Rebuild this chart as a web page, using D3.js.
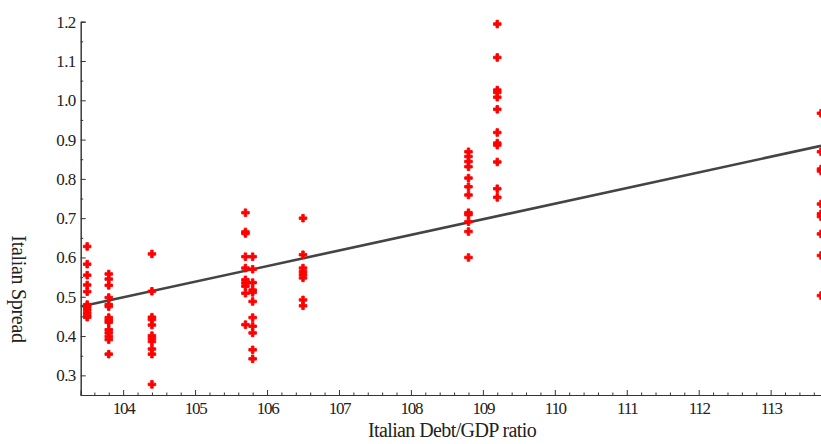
<!DOCTYPE html>
<html>
<head>
<meta charset="utf-8">
<script src="https://cdn.jsdelivr.net/npm/d3@7"></script>
<style>
  html, body { margin: 0; padding: 0; background: #fff; }
  svg { display: block; }
  text { font-family: "Liberation Serif", "DejaVu Serif", serif; fill: #222; }
</style>
</head>
<body>
<svg id="chart" width="821" height="444"></svg>
<script>
// ---- data ----
const debtRatio = [103.5, 103.8, 104.4, 105.7, 105.8, 106.5, 108.8, 109.2, 113.7];
const spread1035 = [0.628, 0.583, 0.555, 0.530, 0.513, 0.480, 0.474, 0.467, 0.459, 0.452, 0.448];
const spread1038 = [0.558, 0.545, 0.529, 0.498, 0.480, 0.475, 0.447, 0.440, 0.435, 0.416, 0.408, 0.399, 0.391, 0.354];
const spread1044 = [0.609, 0.514, 0.448, 0.442, 0.428, 0.401, 0.394, 0.386, 0.367, 0.354, 0.277];
const spread1057 = [0.714, 0.665, 0.661, 0.602, 0.573, 0.543, 0.535, 0.527, 0.509, 0.429];
const spread1058 = [0.602, 0.570, 0.536, 0.517, 0.511, 0.488, 0.447, 0.425, 0.408, 0.365, 0.342];
const spread1065 = [0.700, 0.607, 0.573, 0.564, 0.556, 0.548, 0.492, 0.477];
const spread1088 = [0.869, 0.857, 0.844, 0.831, 0.802, 0.780, 0.759, 0.714, 0.709, 0.691, 0.666, 0.600];
const spread1092 = [1.194, 1.109, 1.026, 1.020, 1.008, 0.977, 0.918, 0.891, 0.886, 0.843, 0.775, 0.753];
const spread1137 = [0.967, 0.869, 0.825, 0.820, 0.736, 0.711, 0.704, 0.660, 0.605, 0.503];
const spreadColumns = [spread1035, spread1038, spread1044, spread1057, spread1058, spread1065, spread1088, spread1092, spread1137];

// fitted regression line (end points)
const fitX = [103.41, 113.7];
const fitY = [0.475, 0.884];

const xTicks = [104, 105, 106, 107, 108, 109, 110, 111, 112, 113];
const yTicks = [0.3, 0.4, 0.5, 0.6, 0.7, 0.8, 0.9, 1.0, 1.1, 1.2];
const xDomain = [103.41, 113.7];
const yDomain = [0.25, 1.2];

const xLabel = "Italian Debt/GDP ratio";
const yLabel = "Italian Spread";

// ---- layout ----
const mLeft = 80.7, mRight = 821, mTop = 21.7, mBottom = 395;

const svg = d3.select("#chart");
const x = d3.scaleLinear().domain(xDomain).range([mLeft, mRight]);
const y = d3.scaleLinear().domain(yDomain).range([mBottom, mTop]);

const points = [];
debtRatio.forEach((d, i) => spreadColumns[i].forEach(v => points.push({x: d, y: v})));

// minor ticks
const xMinor = d3.range(103.6, 113.71, 0.2).map(v => +v.toFixed(1)).filter(v => Math.abs(v - Math.round(v)) > 1e-6);
const yMinor = d3.range(0.25, 1.2, 0.1).map(v => +v.toFixed(2));

function styleAxis(g) {
  g.select(".domain").attr("stroke", "#333").attr("stroke-width", 1);
  g.selectAll(".tick line").attr("stroke", "#333").attr("stroke-width", 1);
}

const gxMinor = svg.append("g").attr("transform", `translate(0,${mBottom})`)
  .call(d3.axisBottom(x).tickValues(xMinor).tickSize(-2.5).tickFormat(""));
styleAxis(gxMinor);
const gx = svg.append("g").attr("transform", `translate(0,${mBottom})`)
  .call(d3.axisBottom(x).tickValues(xTicks).tickSize(-5).tickPadding(7).tickFormat(d3.format("d")));
styleAxis(gx);
gx.selectAll("text").style("font-size", "17px").style("letter-spacing", "-1.3px")
  .style("font-family", "'Liberation Serif', serif").attr("fill", "#222");

const gyMinor = svg.append("g").attr("transform", `translate(${mLeft},0)`)
  .call(d3.axisLeft(y).tickValues(yMinor).tickSize(-2.5).tickFormat(""));
styleAxis(gyMinor);
const gy = svg.append("g").attr("transform", `translate(${mLeft},0)`)
  .call(d3.axisLeft(y).tickValues(yTicks).tickSize(-5).tickPadding(5).tickFormat(d3.format(".1f")));
styleAxis(gy);
gy.selectAll("text").style("font-size", "17px").style("letter-spacing", "-0.6px")
  .style("font-family", "'Liberation Serif', serif").attr("fill", "#222");

// regression line
svg.append("line")
  .attr("x1", x(fitX[0])).attr("y1", y(fitY[0]))
  .attr("x2", x(fitX[1])).attr("y2", y(fitY[1]))
  .attr("stroke", "#444").attr("stroke-width", 2.6);

// points
const sym = d3.symbol().type(d3.symbolCross).size(32);
svg.append("g").selectAll("path").data(points).join("path")
  .attr("d", sym)
  .attr("transform", d => `translate(${x(d.x)},${y(d.y)})`)
  .attr("fill", "#ff0000")
  .attr("stroke", "#ff0000").attr("stroke-width", 0.9).attr("stroke-linejoin", "round");

// axis titles
svg.append("text")
  .attr("x", 452).attr("y", 437)
  .attr("text-anchor", "middle")
  .style("font-size", "20px").style("letter-spacing", "-0.6px")
  .text(xLabel);
svg.append("text")
  .attr("transform", "translate(12,289) rotate(90)")
  .attr("text-anchor", "middle")
  .style("font-size", "20px").style("letter-spacing", "-0.3px")
  .text(yLabel);
</script>
</body>
</html>
